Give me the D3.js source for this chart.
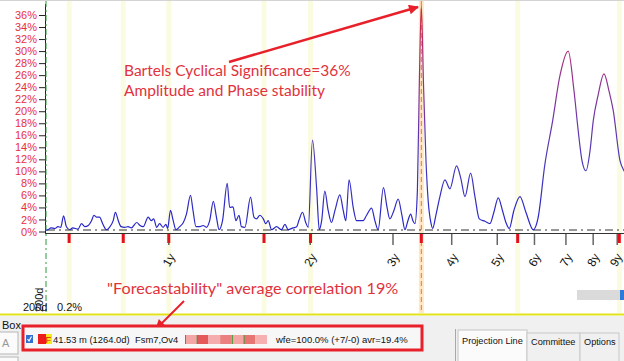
<!DOCTYPE html>
<html>
<head>
<meta charset="utf-8">
<script src="https://cdn.jsdelivr.net/npm/d3@7"></script>
<style>
  body { margin: 0; background: #fff; }
  text { font-family: "Liberation Sans", Arial, sans-serif; }
</style>
</head>
<body>
<script>
// cycle period (days) and Bartels significance (%)
var periodDays = [199,202,205,209,212,215,218,221,225,228,234,238,242,246,250,253,256,260,264,269,273,278,281,285,289,294,299,304,312,317,322,330,335,339,344,349,355,360,363,368,373,378,385,392,398,406,411,417,425,432,439,446,454,461,467,475,486,492,500,507,515,521,530,545,554,561,570,580,587,594,604,619,634,645,655,671,683,691,703,714,723,738,753,763,772,784,797,810,824,844,858,869,883,901,916,946,962,986,1002,1018,1045,1063,1078,1100,1123,1144,1161,1178,1194,1207,1219,1234,1246,1258,1271,1287,1301,1318,1330,1351,1378,1412,1447,1495,1527,1558,1602,1636,1671,1718,1761,1795,1834,1872,1904,1935,1980,2040,2100,2177,2228,2305,2394,2481,2584,2658,2714,2764,2819,2875,2921,2990,3079,3155,3222,3330,3396,3463];
var significance = [0.2,0.3,0.6,0.5,0.8,0.7,2.6,0.8,0.3,0.6,0.4,1.3,0.8,1.0,1.8,2.7,2.4,2.4,1.3,0.3,0.7,1.8,3.2,1.8,0.8,0.7,0.8,0.6,1.5,1.0,0.8,2.4,1.8,2.1,0.7,1.3,0.7,1.2,0.5,3.5,1.8,0.3,0.8,1.5,2.9,6.0,3.5,0.8,0.8,1.0,0.7,1.8,5.0,2.4,0.3,1.8,8.0,4.0,4.1,1.8,2.7,0.8,0.7,5.7,2.4,2.1,2.7,2.1,1.3,1.8,0.3,0.8,0.3,1.2,0.3,0.6,0.8,1.9,3.2,1.5,0.7,15.2,7.3,0.3,1.8,6.7,3.5,1.5,3.5,6.1,3.5,1.8,8.6,4.0,1.8,1.8,2.7,3.9,1.8,0.3,7.3,4.1,2.1,3.5,5.4,2.7,0.3,1.8,2.9,1.8,1.3,6.8,25,37.5,25,11.8,5.1,1.5,0.5,2.7,5.8,8.6,7.1,10.9,8.8,5.8,9.7,5.8,2.1,1.7,1.3,3.2,5.6,3.5,1.5,0.5,3.5,5.8,3.2,0.3,2.2,11.2,18.4,25.9,30.0,23.4,16.7,11.8,10.1,13.4,18.4,22.6,26.2,23.4,20.1,11.8,10.1,9.0];

var yTickValues = [0,2,4,6,8,10,12,14,16,18,20,22,24,26,28,30,32,34,36];
var yearTicks = [1,2,3,4,5,6,7,8,9];
var yearLabels = ["1y","2y","3y","4y","5y","6y","7y","8y","9y"];
var cycleMarks = [224,292,365,582,731,1258,2017,3319];
var bestCycle = 1258;
var committeeCorr = [0.14,0.34,0.12,0.24,0.14,0.27,0.11];

var spectrum = periodDays.map(function (d, i) {
  return { days: d, value: significance[i] };
});

var svg = d3.select("body")
  .append("svg")
  .attr("width", 624)
  .attr("height", 361);

var x = d3.scaleLog().domain([200, 3396]).range([46, 624]);
var y = d3.scaleLinear().domain([0, 36]).range([231.5, 15]);

var defs = svg.append("defs");
var grad = defs.append("linearGradient")
  .attr("id", "lineGrad")
  .attr("gradientUnits", "userSpaceOnUse")
  .attr("x1", 0).attr("x2", 0)
  .attr("y1", y(0)).attr("y2", y(36));
grad.append("stop").attr("offset", "0").attr("stop-color", "#2323c8");
grad.append("stop").attr("offset", "0.3").attr("stop-color", "#4438bb");
grad.append("stop").attr("offset", "0.55").attr("stop-color", "#7236a4");
grad.append("stop").attr("offset", "0.8").attr("stop-color", "#a8307e");
grad.append("stop").attr("offset", "1").attr("stop-color", "#cc2a40");

defs.append("marker")
  .attr("id", "arrow")
  .attr("viewBox", "0 0 10 10")
  .attr("refX", 9).attr("refY", 5)
  .attr("markerUnits", "userSpaceOnUse")
  .attr("markerWidth", 13).attr("markerHeight", 10)
  .attr("orient", "auto")
  .append("path")
  .attr("d", "M0,0 L10,5 L0,10 z")
  .attr("fill", "#e8202a");

defs.append("clipPath").attr("id", "plotClip")
  .append("rect").attr("x", 46).attr("y", 0).attr("width", 578).attr("height", 240);

// lower panel
svg.append("rect").attr("x", 0).attr("y", 316).attr("width", 624).attr("height", 45).attr("fill", "#f0f0f0");
svg.append("line").attr("x1", 0).attr("x2", 624).attr("y1", 314.5).attr("y2", 314.5)
  .attr("stroke", "#e2e21a").attr("stroke-width", 2);
svg.append("line").attr("x1", 0).attr("x2", 624).attr("y1", 0.5).attr("y2", 0.5)
  .attr("stroke", "#d4d4d4");

// cycle bands
svg.selectAll(".band").data(cycleMarks).enter().append("rect")
  .attr("x", function (d) { return x(d) - 2.5; })
  .attr("y", 1)
  .attr("width", 5)
  .attr("height", 312)
  .attr("fill", function (d) { return d === bestCycle ? "#fde7c4" : "#fbfbe2"; });

svg.append("line")
  .attr("x1", x(bestCycle)).attr("x2", x(bestCycle))
  .attr("y1", 1).attr("y2", 313)
  .attr("stroke", "#ee7a1c").attr("stroke-dasharray", "5,3");

// axes
svg.append("line").attr("x1", 45.5).attr("x2", 45.5).attr("y1", 4).attr("y2", 234)
  .attr("stroke", "#222");
svg.append("line").attr("x1", 46).attr("x2", 46).attr("y1", 1).attr("y2", 312)
  .attr("stroke", "#2f9a3a").attr("stroke-dasharray", "6,3,2,3");
svg.append("line").attr("x1", 45).attr("x2", 624).attr("y1", 233.5).attr("y2", 233.5)
  .attr("stroke", "#333");
svg.append("line").attr("x1", 47).attr("x2", 624).attr("y1", 230).attr("y2", 230)
  .attr("stroke", "#333").attr("stroke-dasharray", "8,4,2,4");

var yAxis = svg.append("g")
  .attr("transform", "translate(45,0)")
  .call(d3.axisLeft(y).tickValues(yTickValues).tickSize(6).tickSizeOuter(0)
    .tickFormat(function (d) { return d + "%"; }));
yAxis.select(".domain").remove();
yAxis.selectAll("line").attr("stroke", "#222");
yAxis.selectAll("text")
  .attr("fill", "#e8303c")
  .attr("x", -8)
  .style("font-size", "11px")
  .style("font-family", "'Liberation Sans', Arial, sans-serif");

// year ticks and labels
svg.selectAll(".yearTick").data(yearTicks).enter().append("line")
  .attr("x1", function (d) { return x(d * 365); })
  .attr("x2", function (d) { return x(d * 365); })
  .attr("y1", 234).attr("y2", 245)
  .attr("stroke", "#666").attr("stroke-width", 1.5);

svg.selectAll(".yearLabel").data(yearTicks).enter().append("text")
  .attr("transform", function (d) {
    return "translate(" + Math.min(x(d * 365), 616) + ",260) rotate(-60)";
  })
  .attr("text-anchor", "middle")
  .attr("dy", "0.35em")
  .style("font-size", "12px")
  .attr("fill", "#111")
  .text(function (d, i) { return yearLabels[i]; });

svg.selectAll(".cycleTick").data(cycleMarks).enter().append("rect")
  .attr("x", function (d) { return x(d) - 1.5; })
  .attr("y", 234)
  .attr("width", 3)
  .attr("height", 9)
  .attr("fill", "#e4101e");

// spectrum line
var line = d3.line()
  .x(function (d) { return x(d.days); })
  .y(function (d) { return y(d.value); })
  .curve(d3.curveMonotoneX);

svg.append("path")
  .datum(spectrum)
  .attr("clip-path", "url(#plotClip)")
  .attr("d", line)
  .attr("fill", "none")
  .attr("stroke", "url(#lineGrad)")
  .attr("stroke-width", 1.2);

// left bottom labels
svg.append("text").attr("x", 23).attr("y", 311).style("font-size", "11px").attr("fill", "#111").text("200d");
svg.append("text").attr("transform", "translate(43,312) rotate(-90)").style("font-size", "11px")
  .attr("fill", "#111").text("200d");
svg.append("text").attr("x", 57).attr("y", 311).style("font-size", "11px").attr("fill", "#111").text("0.2%");

// scrollbar
svg.append("rect").attr("x", 577).attr("y", 290).attr("width", 47).attr("height", 10).attr("fill", "#dadada");
svg.append("rect").attr("x", 620).attr("y", 290).attr("width", 4).attr("height", 10).attr("fill", "#2f7bd8");

// annotations
svg.append("line")
  .attr("x1", 229).attr("y1", 62).attr("x2", 418).attr("y2", 7)
  .attr("stroke", "#e8202a").attr("stroke-width", 2.5)
  .attr("marker-end", "url(#arrow)");
svg.append("text").attr("x", 124).attr("y", 76)
  .style("font-family", "Lato, sans-serif").style("font-size", "15.5px")
  .attr("fill", "#e2323c").text("Bartels Cyclical Significance=36%");
svg.append("text").attr("x", 124).attr("y", 96)
  .style("font-family", "Lato, sans-serif").style("font-size", "15.5px")
  .attr("fill", "#e2323c").text("Amplitude and Phase stability");

svg.append("text").attr("x", 107).attr("y", 294)
  .style("font-family", "Lato, sans-serif").style("font-size", "16.2px")
  .attr("fill", "#e2323c").text("\"Forecastability\" average correlation 19%");
svg.append("line")
  .attr("x1", 184).attr("y1", 301).attr("x2", 156).attr("y2", 329)
  .attr("stroke", "#e8202a").attr("stroke-width", 2)
  .attr("marker-end", "url(#arrow)");

// box panel
svg.append("text").attr("x", 2).attr("y", 329).style("font-size", "11px").attr("fill", "#111").text("Box");
svg.append("rect").attr("x", -1).attr("y", 332).attr("width", 19).attr("height", 22)
  .attr("fill", "#fbfbfb").attr("stroke", "#b5b5b5");
svg.append("text").attr("x", 2).attr("y", 347).style("font-size", "11px").attr("fill", "#999").text("A");
svg.append("rect").attr("x", -1).attr("y", 357).attr("width", 19).attr("height", 10)
  .attr("fill", "#fbfbfb").attr("stroke", "#b5b5b5");

svg.append("rect").attr("x", 23).attr("y", 326).attr("width", 399).attr("height", 24)
  .attr("fill", "#f7f7f7").attr("stroke", "#e8202a").attr("stroke-width", 3);

svg.append("rect").attr("x", 26).attr("y", 335).attr("width", 7).attr("height", 8).attr("fill", "#2f6fcf");
svg.append("path").attr("d", "M27.5,339 L29,341 L31.5,336.5").attr("fill", "none").attr("stroke", "#fff").attr("stroke-width", 1.2);
svg.append("rect").attr("x", 38).attr("y", 334).attr("width", 8).attr("height", 10).attr("fill", "#ee1c1c");
svg.append("rect").attr("x", 46).attr("y", 334).attr("width", 6).attr("height", 10).attr("fill", "#f6e81c");
svg.append("text").attr("x", 45.5).attr("y", 343).style("font-size", "9.4px").attr("fill", "#e01010").text("F");

svg.append("text").attr("x", 53).attr("y", 343).style("font-size", "9.4px").attr("fill", "#111").text("41.53 m (1264.0d)");
svg.append("text").attr("x", 135).attr("y", 343).style("font-size", "9.4px").attr("fill", "#111").text("Fsm7,Ov4");

var cellX = d3.scaleBand().domain(d3.range(committeeCorr.length)).range([185, 267]);
var cellColor = d3.scaleLinear().domain([0.1, 0.35]).range(["#f7b4b4", "#e35656"]);
svg.selectAll(".cell").data(committeeCorr).enter().append("rect")
  .attr("x", function (d, i) { return cellX(i); })
  .attr("y", 335)
  .attr("width", cellX.bandwidth())
  .attr("height", 9)
  .attr("fill", function (d) { return cellColor(d); });
svg.selectAll(".cellEdge").data([0, 1, 4, 5]).enter().append("rect")
  .attr("x", function (d) { return cellX(d); })
  .attr("y", 335).attr("width", 1).attr("height", 9)
  .attr("fill", "#3aa03a");

svg.append("text").attr("x", 276).attr("y", 343).style("font-size", "9.5px").attr("fill", "#111")
  .text("wfe=100.0% (+7/-0) avr=19.4%");

// tabs
svg.append("line").attr("x1", 455.5).attr("x2", 455.5).attr("y1", 329).attr("y2", 361).attr("stroke", "#a8a8a8");
svg.append("rect").attr("x", 458).attr("y", 330).attr("width", 69).attr("height", 32)
  .attr("fill", "#fbfbfb").attr("stroke", "#c4c4c4");
svg.append("rect").attr("x", 527).attr("y", 333).attr("width", 53).attr("height", 29)
  .attr("fill", "#f0f0f0").attr("stroke", "#c8c8c8");
svg.append("rect").attr("x", 580).attr("y", 333).attr("width", 39).attr("height", 29)
  .attr("fill", "#f0f0f0").attr("stroke", "#c8c8c8");
svg.append("text").attr("x", 462).attr("y", 344).style("font-size", "9.2px").attr("fill", "#111").text("Projection Line");
svg.append("text").attr("x", 531).attr("y", 345).style("font-size", "9.2px").attr("fill", "#111").text("Committee");
svg.append("text").attr("x", 584).attr("y", 345).style("font-size", "9.2px").attr("fill", "#111").text("Options");
</script>
</body>
</html>
